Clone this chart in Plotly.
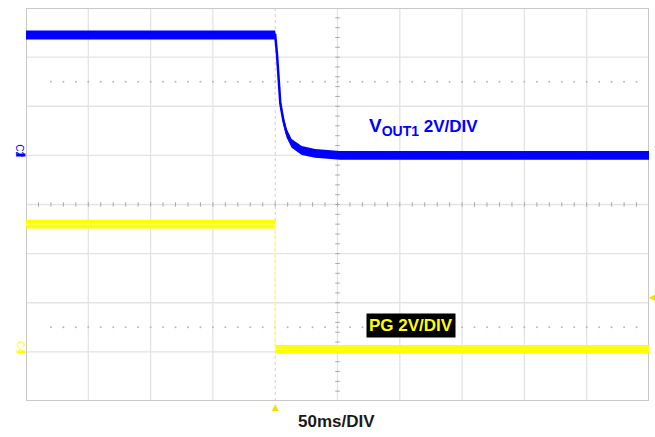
import numpy as np
import plotly.graph_objects as go

# Time base: 50 ms/div, 10 divisions across the screen
t_vout = [0, 200, 201.4, 202.2, 203.0, 204.1, 206.5, 209.2, 213.2, 221.3, 232, 252, 500]
v_vout = [4.9, 4.9, 4.15, 3.46, 2.77, 2.12, 1.43, 0.90, 0.49, 0.20, 0.08, 0.0, 0.0]

t_pg = [0, 200, 200, 500]
v_pg = [5.2, 5.2, 0.1, 0.1]

VOLTS_PER_DIV = 2.0
MS_PER_DIV = 50
N_XDIV, N_YDIV = 10, 8
C2_GROUND_DIV = 5   # VOUT1 ground marker position (divisions from bottom)
C4_GROUND_DIV = 1   # PG ground marker position
TRIG_MS = 200
TRIG_LEVEL_PG = 2.24

BLUE = "#0000ff"
YELLOW = "#ffff00"
GRID = "#e3e3e3"
NOISE = 0.18  # half-width of the noise band, volts

W, H = 655, 437
ML, MR, MT, MB = 26, 6, 8, 36

fig = go.Figure()


def channel_range(ground_div):
    lo = -ground_div * VOLTS_PER_DIV
    return [lo, lo + N_YDIV * VOLTS_PER_DIV]


def add_band(t, v, color, yaxis, center_width, center_color):
    up = [x + NOISE for x in v]
    lo = [x - NOISE for x in v]
    fig.add_trace(go.Scatter(x=t, y=lo, mode="lines", line=dict(width=0, color=color),
                             yaxis=yaxis, hoverinfo="skip", showlegend=False))
    fig.add_trace(go.Scatter(x=t, y=up, mode="lines", line=dict(width=0, color=color),
                             fill="tonexty", fillcolor=color, yaxis=yaxis,
                             hoverinfo="skip", showlegend=False))
    fig.add_trace(go.Scatter(x=t, y=v, mode="lines",
                             line=dict(width=center_width, color=center_color),
                             yaxis=yaxis, hoverinfo="skip", showlegend=False))


add_band(t_vout, v_vout, BLUE, "y2", 2.5, BLUE)
add_band(t_pg, v_pg, YELLOW, "y3", 1.2, "#ffff70")

# Graticule
shapes = []
x_end = N_XDIV * MS_PER_DIV
for i in range(N_XDIV + 1):
    x = i * MS_PER_DIV
    if x == TRIG_MS:
        shapes.append(dict(type="line", xref="x", yref="y", x0=x, x1=x, y0=0, y1=N_YDIV,
                           line=dict(color="#d0d0d0", width=1, dash="dot"), layer="below"))
    elif 0 < i < N_XDIV:
        shapes.append(dict(type="line", xref="x", yref="y", x0=x, x1=x, y0=0, y1=N_YDIV,
                           line=dict(color=GRID, width=1.3), layer="below"))
for j in range(1, N_YDIV):
    shapes.append(dict(type="line", xref="x", yref="y", x0=0, x1=x_end, y0=j, y1=j,
                       line=dict(color=GRID, width=1.3), layer="below"))

# minor ticks along the centre crosshair
xc, yc = x_end / 2, N_YDIV / 2
for k in np.arange(0, N_YDIV + 0.001, 0.2):
    shapes.append(dict(type="line", xref="x", yref="y", x0=xc - 1.8, x1=xc + 1.8, y0=k, y1=k,
                       line=dict(color="#a8a8a8", width=1), layer="below"))
for k in np.arange(0, x_end + 0.001, MS_PER_DIV / 5):
    shapes.append(dict(type="line", xref="x", yref="y", x0=k, x1=k, y0=yc - 0.045, y1=yc + 0.045,
                       line=dict(color="#a8a8a8", width=1), layer="below"))

# outer frame
shapes.append(dict(type="rect", xref="x", yref="y", x0=0, x1=x_end, y0=0, y1=N_YDIV,
                   line=dict(color="#c8c8c8", width=2), layer="below"))

# dotted reference rows
dot_x = list(np.arange(MS_PER_DIV / 5 * 2, x_end, MS_PER_DIV / 5))
for row in (1.5, 6.5):
    fig.add_trace(go.Scatter(x=dot_x, y=[row] * len(dot_x), mode="markers",
                             marker=dict(size=2, color="#b8b8b8"),
                             hoverinfo="skip", showlegend=False))

ann = []
for ground, col, tag in [(C2_GROUND_DIV, BLUE, "C2"), (C4_GROUND_DIV, YELLOW, "C4")]:
    # channel tag, rotated, sitting on its ground-level bar
    ann.append(dict(xref="paper", yref="paper", x=-0.0095, y=ground / N_YDIV + 0.013,
                    text=tag, textangle=90, showarrow=False,
                    font=dict(size=10, color=col, family="Liberation Sans"),
                    xanchor="center", yanchor="middle"))
    ann.append(dict(xref="paper", yref="paper", x=-0.0085, y=ground / N_YDIV,
                    text=" ", showarrow=False, width=8, height=2, borderpad=0,
                    bgcolor=col, font=dict(size=1), xanchor="center", yanchor="middle"))

ann.append(dict(xref="x", yref="y2", x=273.5, y=1.15,
                text="<b><span style='font-size:19px'>V</span><sub><span style='font-size:14px'>OUT1</span></sub> 2V/DIV</b>",
                showarrow=False, xanchor="left", yanchor="middle",
                font=dict(size=17, color=BLUE, family="Liberation Sans")))
ann.append(dict(xref="x", yref="y3", x=272.8, y=1.06, text="<b>PG 2V/DIV</b>",
                showarrow=False, xanchor="left", yanchor="middle", bgcolor="#000000",
                borderpad=2, font=dict(size=17, color=YELLOW, family="Liberation Sans")))
ann.append(dict(xref="x", yref="paper", x=249.5, y=-0.053, text="<b>50ms/DIV</b>",
                showarrow=False, xanchor="center", yanchor="middle",
                font=dict(size=17, color="#1a1a1a", family="Liberation Sans")))

# trigger position and level markers
ann.append(dict(xref="x", yref="paper", x=TRIG_MS, y=-0.016, text="▲", showarrow=False,
                xanchor="center", yanchor="middle",
                font=dict(size=9, color="#f0e000", family="DejaVu Sans")))
ann.append(dict(xref="paper", yref="y3", x=1.006, y=TRIG_LEVEL_PG, text="◀", showarrow=False,
                xanchor="center", yanchor="middle",
                font=dict(size=9, color="#f0e000", family="DejaVu Sans")))

fig.update_layout(
    width=W, height=H,
    margin=dict(l=ML, r=MR, t=MT, b=MB),
    paper_bgcolor="white", plot_bgcolor="white",
    showlegend=False,
    shapes=shapes, annotations=ann,
    xaxis=dict(range=[0, x_end], showgrid=False, zeroline=False, showticklabels=False,
               ticks="", fixedrange=True),
    yaxis=dict(range=[0, N_YDIV], showgrid=False, zeroline=False, showticklabels=False,
               ticks="", fixedrange=True),
    yaxis2=dict(range=channel_range(C2_GROUND_DIV), overlaying="y", visible=False),
    yaxis3=dict(range=channel_range(C4_GROUND_DIV), overlaying="y", visible=False),
)

fig.write_html("out.html")
